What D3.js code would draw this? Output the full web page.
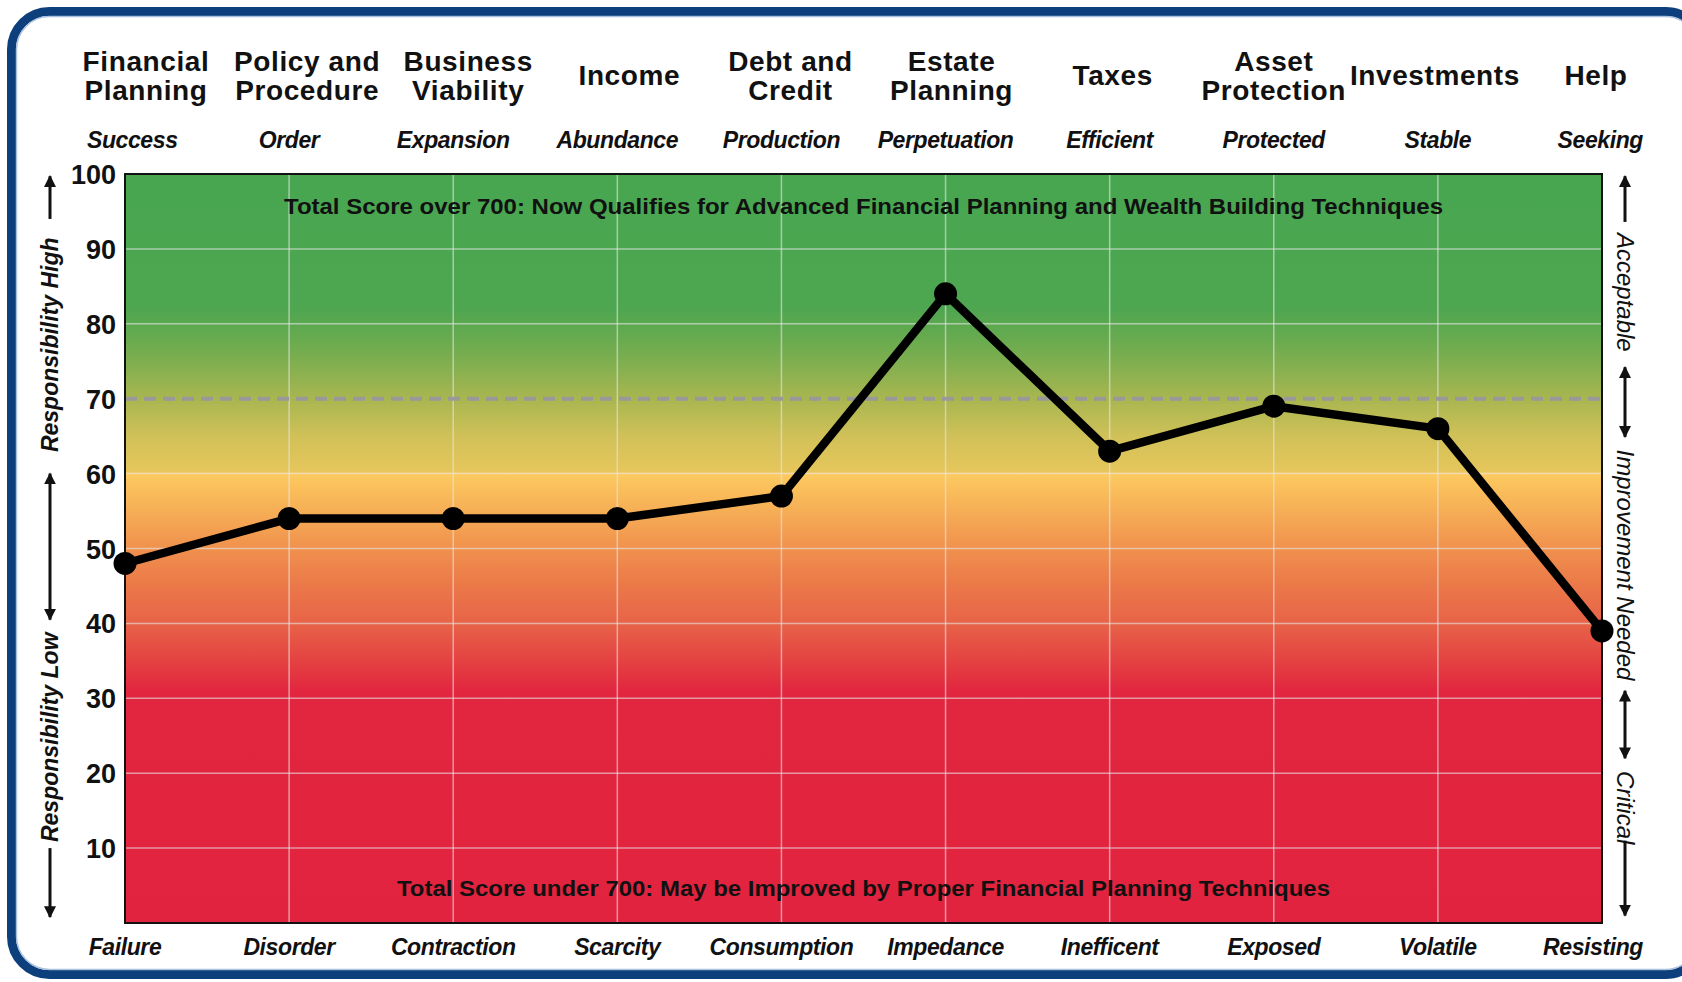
<!DOCTYPE html>
<html>
<head>
<meta charset="utf-8">
<script src="https://cdn.jsdelivr.net/npm/d3@7"></script>
<style>
  body { margin: 0; background: #fff; }
  svg { display: block; }
  .title { font-family: "Liberation Sans", Arial, sans-serif; font-weight: bold; font-size: 28px; letter-spacing: 0.6px; fill: #111; }
  .tag { font-family: "Liberation Sans", Arial, sans-serif; font-weight: bold; font-style: italic; font-size: 23px; letter-spacing: -0.4px; fill: #111; }
  .tick { font-family: "Liberation Sans", Arial, sans-serif; font-weight: bold; font-size: 27px; fill: #111; }
  .note { font-family: "Liberation Sans", Arial, sans-serif; font-weight: bold; font-size: 22px; fill: #111; }
  .side { font-family: "Liberation Sans", Arial, sans-serif; font-style: italic; font-size: 24px; fill: #111; }
  .side.left { font-weight: bold; font-size: 23px; }
</style>
</head>
<body>
<div id="container"></div>
<script>
// categories (title lines), upper/lower descriptors and scores
var titles = [
  ["Financial", "Planning"], ["Policy and", "Procedure"], ["Business", "Viability"],
  ["Income"], ["Debt and", "Credit"], ["Estate", "Planning"], ["Taxes"],
  ["Asset", "Protection"], ["Investments"], ["Help"]
];
var highLabels = ["Success", "Order", "Expansion", "Abundance", "Production",
  "Perpetuation", "Efficient", "Protected", "Stable", "Seeking"];
var lowLabels = ["Failure", "Disorder", "Contraction", "Scarcity", "Consumption",
  "Impedance", "Inefficent", "Exposed", "Volatile", "Resisting"];
var scores = [48, 54, 54, 54, 57, 84, 63, 69, 66, 39];
var yTicks = [10, 20, 30, 40, 50, 60, 70, 80, 90, 100];
var threshold = 70;
var noteHigh = "Total Score over 700: Now Qualifies for Advanced Financial Planning and Wealth Building Techniques";
var noteLow = "Total Score under 700: May be Improved by Proper Financial Planning Techniques";

var W = 1682, H = 982;
var m = { top: 174, right: 80, bottom: 59, left: 125 };

var cats = titles.map(function (d) { return d.join(" "); });

var x = d3.scalePoint().domain(cats).range([m.left, W - m.right]);
var y = d3.scaleLinear().domain([0, 100]).range([H - m.bottom, m.top]);
var xTitle = d3.scalePoint().domain(cats).range([146, 1596]);

var svg = d3.select("#container").append("svg")
  .attr("width", W).attr("height", H);

var defs = svg.append("defs");
var grad = defs.append("linearGradient")
  .attr("id", "bg").attr("x1", 0).attr("y1", 0).attr("x2", 0).attr("y2", 1);
[[100, "#48a650"], [82, "#4ea650"], [76, "#76ad4f"], [70, "#a8b650"], [65, "#d0c158"],
 [60.3, "#e6c65c"], [60, "#fdca5f"], [55, "#f6ae56"], [50, "#f0914d"], [45, "#eb7849"],
 [40, "#e76347"], [35, "#e44242"], [31, "#e2263f"], [0, "#e2233f"]].forEach(function (s) {
  grad.append("stop").attr("offset", (100 - s[0]) + "%").attr("stop-color", s[1]);
});

defs.append("marker").attr("id", "head")
  .attr("viewBox", "0 0 10 10").attr("refX", 9).attr("refY", 5)
  .attr("markerWidth", 4).attr("markerHeight", 4).attr("markerUnits", "strokeWidth")
  .attr("orient", "auto-start-reverse")
  .append("path").attr("d", "M0,0L10,5L0,10z").attr("fill", "#111");

// frame
svg.append("rect")
  .attr("x", 11.5).attr("y", 11.5).attr("width", W + 10).attr("height", H - 19)
  .attr("rx", 38)
  .attr("fill", "none").attr("stroke", "#0c3f7b").attr("stroke-width", 9);
svg.append("rect")
  .attr("x", 16.5).attr("y", 16.5).attr("width", W).attr("height", H - 29)
  .attr("rx", 33)
  .attr("fill", "none").attr("stroke", "#a9c1de").attr("stroke-width", 1.5);

var x0 = x.range()[0], x1 = x.range()[1];

// plot background
svg.append("rect")
  .attr("x", x0).attr("y", y(100))
  .attr("width", x1 - x0).attr("height", y(0) - y(100))
  .attr("fill", "url(#bg)");

// grid
svg.append("g").selectAll("line")
  .data(yTicks.filter(function (d) { return d < 100 && d !== threshold; }))
  .enter().append("line")
  .attr("x1", x0).attr("x2", x1)
  .attr("y1", function (d) { return y(d); }).attr("y2", function (d) { return y(d); })
  .attr("stroke", "#e6e6e6").attr("stroke-opacity", 0.6).attr("stroke-width", 1.5);

svg.append("g").selectAll("line")
  .data(cats.slice(1, -1))
  .enter().append("line")
  .attr("x1", function (d) { return x(d); }).attr("x2", function (d) { return x(d); })
  .attr("y1", y(100)).attr("y2", y(0))
  .attr("stroke", "#e6e6e6").attr("stroke-opacity", 0.6).attr("stroke-width", 1.5);

// threshold
svg.append("line")
  .attr("x1", x0).attr("x2", x1)
  .attr("y1", y(threshold)).attr("y2", y(threshold))
  .attr("stroke", "#999").attr("stroke-width", 4)
  .attr("stroke-dasharray", "12,7");

// border
svg.append("rect")
  .attr("x", x0).attr("y", y(100))
  .attr("width", x1 - x0).attr("height", y(0) - y(100))
  .attr("fill", "none").attr("stroke", "#111").attr("stroke-width", 2);

// notes
svg.append("text").attr("class", "note")
  .attr("x", (x0 + x1) / 2).attr("y", y(95.5) + 6)
  .attr("text-anchor", "middle")
  .attr("textLength", 1159).attr("lengthAdjust", "spacingAndGlyphs")
  .text(noteHigh);
svg.append("text").attr("class", "note")
  .attr("x", (x0 + x1) / 2).attr("y", y(4.7) + 8)
  .attr("text-anchor", "middle")
  .attr("textLength", 933).attr("lengthAdjust", "spacingAndGlyphs")
  .text(noteLow);

// y tick labels
svg.append("g").selectAll("text")
  .data(yTicks)
  .enter().append("text").attr("class", "tick")
  .attr("x", x0 - 9)
  .attr("y", function (d) { return y(d) + 10; })
  .attr("text-anchor", "end")
  .text(function (d) { return d; });

// score line
svg.append("path")
  .datum(scores)
  .attr("fill", "none").attr("stroke", "#000")
  .attr("stroke-width", 8.5).attr("stroke-linejoin", "round")
  .attr("d", d3.line()
    .x(function (d, i) { return x(cats[i]); })
    .y(function (d) { return y(d); }));

svg.append("g").selectAll("circle")
  .data(scores)
  .enter().append("circle")
  .attr("cx", function (d, i) { return x(cats[i]); })
  .attr("cy", function (d) { return y(d); })
  .attr("r", 11.5).attr("fill", "#000");

// category titles
var tg = svg.append("g").selectAll("text")
  .data(titles)
  .enter().append("text").attr("class", "title")
  .attr("text-anchor", "middle")
  .attr("x", function (d, i) { return xTitle(cats[i]); })
  .attr("y", function (d) { return d.length === 1 ? 85 : 71; });
tg.selectAll("tspan")
  .data(function (d) { return d; })
  .enter().append("tspan")
  .attr("x", function () { return d3.select(this.parentNode).attr("x"); })
  .attr("dy", function (d, i) { return i === 0 ? 0 : 29; })
  .text(function (d) { return d; });

// descriptors sit on the category lines, kept inside the frame
function tags(labels, ty) {
  svg.append("g").selectAll("text")
    .data(labels)
    .enter().append("text").attr("class", "tag")
    .attr("text-anchor", "middle")
    .attr("y", ty)
    .text(function (d) { return d; })
    .attr("x", function (d, i) {
      var half = this.getComputedTextLength() / 2;
      return Math.min(Math.max(x(cats[i]), 87 + half), 1643 - half);
    });
}
tags(highLabels, 148);
tags(lowLabels, 955);

// side rails: arrows and rotated labels
function rail(cx, rot, cls, pieces) {
  var g = svg.append("g");
  pieces.forEach(function (p) {
    if (p.text) {
      g.append("text").attr("class", "side " + cls)
        .attr("text-anchor", "middle")
        .attr("transform", "translate(" + (cx + (rot < 0 ? 8 : -8)) + "," + y(p.at) + ") rotate(" + rot + ")")
        .text(p.text);
    } else {
      var ln = g.append("line")
        .attr("x1", cx).attr("x2", cx)
        .attr("y1", y(p.from)).attr("y2", y(p.to))
        .attr("stroke", "#111").attr("stroke-width", 3);
      if (p.a) ln.attr("marker-start", "url(#head)");
      if (p.b) ln.attr("marker-end", "url(#head)");
    }
  });
}

rail(50, -90, "left", [
  { from: 94, to: 99.7, b: true },
  { text: "Responsibility High", at: 77.2 },
  { from: 60, to: 40.5, a: true, b: true },
  { text: "Responsibility Low", at: 24.8 },
  { from: 10, to: 0.8, b: true }
]);

rail(1625, 90, "right", [
  { from: 93.6, to: 99.7, b: true },
  { text: "Acceptable", at: 84.2 },
  { from: 74.2, to: 64.9, a: true, b: true },
  { text: "Improvement Needed", at: 47.8 },
  { from: 31, to: 22, a: true, b: true },
  { text: "Critical", at: 15.4 },
  { from: 11, to: 1, b: true }
]);
</script>
</body>
</html>
